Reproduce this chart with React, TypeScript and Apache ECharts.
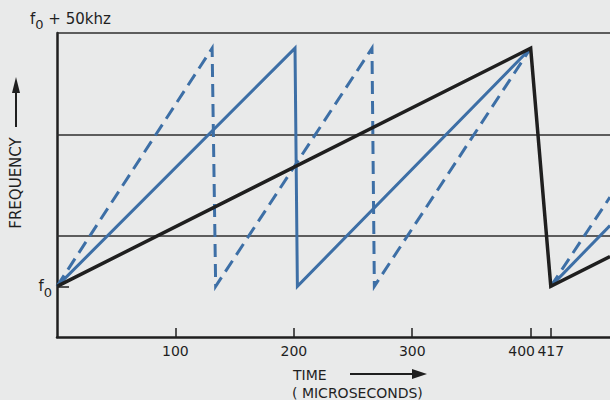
import React, { useEffect, useRef } from "react";
import * as echarts from "echarts";

// Time axis (microseconds) tick labels
const timeTicks = [100, 200, 300, 400, 417];
// Frequency offset from f0 (kHz) where the axis is labelled
const freqTicks = [0];
// Horizontal reference lines (kHz above f0)
const freqGrid = [10, 30, 50];

// Sweeps: [time µs, frequency offset kHz]
const blackSweep = [[0, 0], [400, 47], [417, 0], [467, 5.9]];
const solidSweepA = [[0, 0], [201, 47], [203, 0], [400, 47]];
const solidSweepB = [[417, 0], [467, 12]];
const dashedSweepA = [[0, 0], [131, 47], [134, 0], [266, 47], [268, 0], [400, 47]];
const dashedSweepB = [[417, 0], [467, 17.6]];

const BG = "#e9eaea";
const BLUE = "#3d6fa6";
const INK = "#1f1f1f";
const FONT = "DejaVu Sans";

export default function App() {
  const ref = useRef<HTMLDivElement>(null);
  useEffect(() => {
    const chart = echarts.init(ref.current!, null, { renderer: "svg" });
    const lineSeries = (name: string, data: number[][], color: string, width: number, dashed: boolean, z: number) => ({
      name,
      type: "line",
      data,
      symbol: "none",
      z,
      lineStyle: {
        color,
        width,
        type: dashed ? [13, 7] : "solid",
        join: "miter",
        cap: "butt",
      },
    });
    const subRich = {
      a: { fontFamily: FONT, fontSize: 15, color: INK, fill: INK },
      b: { fontFamily: FONT, fontSize: 13, color: INK, fill: INK, padding: [12, 0, 0, 0] },
    };
    chart.setOption({
      animation: false,
      backgroundColor: BG,
      grid: { left: 57, right: 0, top: 33, bottom: 63, outerBoundsMode: "none", containLabel: false },
      xAxis: {
        type: "value",
        min: 0,
        max: 467,
        axisLine: { show: true, onZero: false, lineStyle: { color: INK, width: 2.5 } },
        splitLine: { show: false },
        axisTick: {
          show: true,
          inside: true,
          length: 9,
          customValues: timeTicks,
          lineStyle: { color: INK, width: 1.5 },
        },
        axisLabel: {
          show: true,
          customValues: timeTicks,
          margin: 7,
          fontFamily: FONT,
          fontSize: 14,
          color: INK,
          formatter: (v: number) => (v === 400 ? "{l|" + v + "}" : "{n|" + v + "}"),
          rich: {
            l: { fontFamily: FONT, fontSize: 14, color: INK, padding: [0, 18, 0, 0] },
            n: { fontFamily: FONT, fontSize: 14, color: INK },
          },
        },
      },
      yAxis: {
        type: "value",
        min: -10,
        max: 50,
        axisLine: { show: true, onZero: false, lineStyle: { color: INK, width: 2.5 } },
        splitLine: { show: false },
        axisTick: {
          show: true,
          inside: true,
          length: 12,
          customValues: freqTicks,
          lineStyle: { color: INK, width: 1.5 },
        },
        axisLabel: {
          show: true,
          customValues: freqTicks,
          margin: 5,
          formatter: () => "{a|f}{b|0}",
          rich: subRich,
        },
      },
      series: [
        {
          ...lineSeries("dashedA", dashedSweepA, BLUE, 3, true, 2),
          markLine: {
            silent: true,
            symbol: "none",
            z: 1,
            label: { show: false },
            lineStyle: { color: "#2e2e2e", width: 1.5, type: "solid" },
            data: freqGrid.map((v) => ({ yAxis: v })),
          },
        },
        lineSeries("dashedB", dashedSweepB, BLUE, 3, true, 2),
        lineSeries("solidA", solidSweepA, BLUE, 3, false, 3),
        lineSeries("solidB", solidSweepB, BLUE, 3, false, 3),
        lineSeries("black", blackSweep, INK, 3.5, false, 4),
      ],
      graphic: [
        {
          type: "text",
          left: 30,
          top: 11,
          style: {
            text: "{a|f}{b|0}{a| + 50khz}",
            rich: subRich,
          },
        },
        {
          type: "text",
          x: 16,
          y: 183,
          rotation: Math.PI / 2,
          style: {
            text: "FREQUENCY",
            fontFamily: FONT,
            fontSize: 15,
            fill: INK,
            align: "center",
            verticalAlign: "middle",
          },
        },
        { type: "line", shape: { x1: 16, y1: 127, x2: 16, y2: 90 }, style: { stroke: INK, lineWidth: 2 } },
        { type: "polygon", shape: { points: [[16, 77], [12, 93], [20, 93]] }, style: { fill: INK } },
        {
          type: "text",
          x: 293,
          y: 375,
          style: { text: "TIME", fontFamily: FONT, fontSize: 14, fill: INK, align: "left", verticalAlign: "middle" },
        },
        { type: "line", shape: { x1: 350, y1: 374, x2: 414, y2: 374 }, style: { stroke: INK, lineWidth: 2 } },
        { type: "polygon", shape: { points: [[427, 374], [412, 369], [412, 379]] }, style: { fill: INK } },
        {
          type: "text",
          x: 292,
          y: 393,
          style: { text: "( MICROSECONDS)", fontFamily: FONT, fontSize: 14, fill: INK, align: "left", verticalAlign: "middle" },
        },
      ],
    });
    return () => chart.dispose();
  }, []);
  return (
    <div
      ref={ref}
      style={{ position: "fixed", left: 0, top: 0, width: 610, height: 400, background: BG }}
    />
  );
}
